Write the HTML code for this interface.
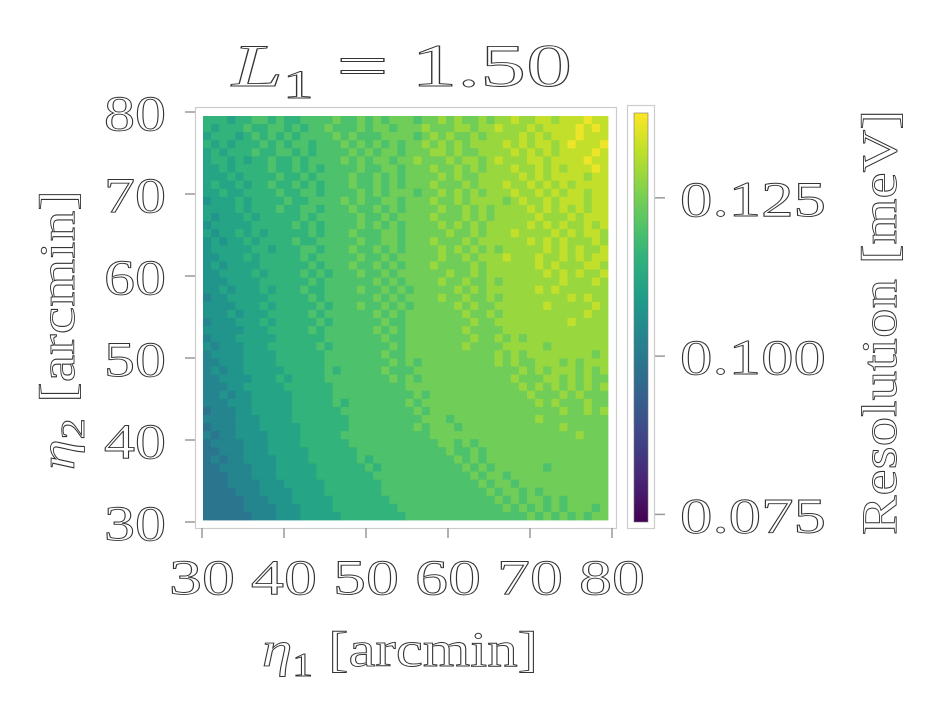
<!DOCTYPE html>
<html><head><meta charset="utf-8"><style>
body{margin:0;background:#fff;width:934px;height:710px;overflow:hidden}
svg text{font-family:"Liberation Serif",serif;fill:#fff;stroke:#333;stroke-width:0.9px}
</style></head><body>
<svg id="chart" width="934" height="710" viewBox="0 0 934 710" xmlns="http://www.w3.org/2000/svg">
<defs><linearGradient id="cbg" x1="0" y1="1" x2="0" y2="0"></linearGradient></defs>
<text x="232" y="86" font-size="60" textLength="340" lengthAdjust="spacingAndGlyphs"><tspan font-style="italic">L</tspan><tspan font-size="40" dy="12">1</tspan><tspan dy="-12"> = 1.50</tspan></text>
<rect x="195.5" y="107.5" width="421" height="421" fill="#fff" stroke="#ccc" stroke-width="1.2"/>
<g id="cells"></g>
<g id="axes"></g>
<rect x="627.5" y="105.5" width="27" height="423" fill="#fff" stroke="#ccc" stroke-width="1.2"/>
<rect x="634" y="113" width="14" height="409" fill="url(#cbg)" stroke="#777" stroke-width="0.6"/>
<g id="cbaxis"></g>
<text x="262" y="666" font-size="50" textLength="276" lengthAdjust="spacingAndGlyphs"><tspan font-style="italic">η</tspan><tspan font-size="34" dy="10">1</tspan><tspan dy="-10"> [arcmin]</tspan></text>
<text transform="translate(74,470) rotate(-90)" font-size="50" textLength="280" lengthAdjust="spacingAndGlyphs"><tspan font-style="italic">η</tspan><tspan font-size="34" dy="10">2</tspan><tspan dy="-10"> [arcmin]</tspan></text>
<text transform="translate(896,535) rotate(-90)" font-size="50" textLength="425" lengthAdjust="spacingAndGlyphs">Resolution [meV]</text>
</svg>
<script>
const xTicks=[30,40,50,60,70,80];
const yTicks=[30,40,50,60,70,80];
const cbTicks=[0.075,0.100,0.125];
const cbTickLabels=["0.075","0.100","0.125"];
const vmin=0.0738, vmax=0.1384;
const levelBase=0.099, levelStep=0.0042;
const rows=[
"4443445545 4455556556 5656665667 6766767787 7887888988",
"4344454455 4545565556 5665666766 6776778777 8788889898",
"3444345454 5455556565 5566665676 7667677778 7878889888",
"4343444545 4554555656 5656566767 6767777878 7887898889",
"3434445445 5454555565 6566566677 6766777787 8787888898",
"3443434454 4545555656 5665667666 7677678777 8878888988",
"3343444454 4545455556 5566566676 6767677787 7878788898",
"3334344445 4454555565 5656566667 6766777778 7878888788",
"3433434454 4545455565 5656566676 6676777877 8787878888",
"3343344445 4455455556 5656665667 6767677787 7878788788",
"2333434444 5445555656 5566566676 6767777678 7787888788",
"3333434445 4455455565 5656566667 6676767777 8787878788",
"3233343444 4454555556 5565666676 6676767777 7877787888",
"2333334444 4545455556 5656566667 6767677777 8787877878",
"3233434344 4445455565 5566566666 7667677787 7778787887",
"2323343444 4544555556 5566566676 6676777777 8787877787",
"2333334434 4455455565 5656566667 6767676777 7787878778",
"2233343444 4454555556 5565666667 6676777877 7877878788",
"2323333444 4445455565 5656566676 6667677777 7878777887",
"2233334344 4454545556 5565666666 7667677777 7787878778",
"2223333444 4445455555 5656566667 6676676777 7777877787",
"2232333434 4454455556 5565656666 6767677777 7878777777",
"1223333344 4445455555 5656566667 6676676777 7777787877",
"2222333434 4444545556 5565656666 6767667777 7787777787",
"2223233344 4445455555 5656566666 6676676777 7777777877",
"1222333434 4444545555 5565566666 6667667777 7777787777",
"2222233344 4445455555 5656566666 6676666777 7777777777",
"1222333334 4444455555 5565566666 6667667676 7777777777",
"2122233344 4444545555 5556566666 6676666777 7767777777",
"1222233334 4444455555 5565566666 6666667676 7777777767",
"1122233334 4444455555 5556565666 6666667676 6777676777",
"1212233333 4444454555 5565556666 6666666667 6767776767",
"1122223334 3444455555 5556565666 6666666676 6677676766",
"1112233333 4444445555 5555566666 6666666667 6767676767",
"1121223333 3444445555 5555556566 6666666666 7666767666",
"1112223333 3444445455 5555565666 6666666666 6767666766",
"0111223333 3444444555 5555556566 6666666666 6666766767",
"1111222333 3444444455 5555555666 5666666666 6766666666",
"0111222333 3344444455 5555556566 6566666666 6666766666",
"1011222233 3344444555 5555555566 6666666666 6666667666",
"0111122233 3344444455 5555555556 6565666666 6666666666",
"0011122233 3334444445 5555555555 6556566666 6666666666",
"0101122223 3334444445 4555555555 5656566666 6666666666",
"0011112223 3333444444 5455555555 5565656666 6656666666",
"0001112223 3333444444 4555555555 5556566566 6666666666",
"0001111222 3333344444 4455555555 5555656656 6666666666",
"0000111222 2333344444 4455555555 5555565665 6566666666",
"0000011122 2333334444 4445555555 5555556565 6656566666",
"0000011112 2233334444 4444555555 5555555656 5656566656",
"0000001112 2233333444 4444455555 5555555555 6565656566"
];
const VIR=[[68,1,84],[72,40,120],[62,74,137],[49,104,142],[38,130,142],[31,158,137],[53,183,121],[109,205,89],[180,222,44],[253,231,37]];
function cmap(v){let t=(v-vmin)/(vmax-vmin);t=Math.max(0,Math.min(1,t))*(VIR.length-1);const i=Math.min(VIR.length-2,Math.floor(t)),f=t-i;const c=VIR[i].map((a,k)=>Math.round(a+(VIR[i+1][k]-a)*f));return 'rgb('+c.join(',')+')';}
const NS="http://www.w3.org/2000/svg";
const X0=203,X1=608,Y0=520,Y1=116;
const xs=v=>202+(v-30)*8.2, ys=v=>522-(v-30)*8.2;
const cbY=v=>522-(v-vmin)/(vmax-vmin)*409;
function mk(tag,attrs,parent){const e=document.createElementNS(NS,tag);for(const k in attrs)e.setAttribute(k,attrs[k]);parent.appendChild(e);return e;}
const grid=rows.map(r=>r.replace(/ /g,'').split('').map(Number));
const nr=grid.length,nc=grid[0].length;
const cw=(X1-X0)/nc,ch=(Y0-Y1)/nr;
const cells=document.getElementById('cells');
grid.forEach((row,r)=>row.forEach((lv,c)=>{
 const v=levelBase+lv*levelStep;
 const e=mk('rect',{x:X0+c*cw,y:Y1+r*ch,width:cw+0.4,height:ch+0.4,fill:cmap(v)},cells);
 
 
}));
const axes=document.getElementById('axes');
xTicks.forEach(t=>{
 const l=mk('line',{x1:xs(t),x2:xs(t),y1:528,y2:538,stroke:'#999','stroke-width':1.5},axes);
 
 
 const tx=mk('text',{x:xs(t)-33,y:594,'font-size':50,textLength:66,lengthAdjust:'spacingAndGlyphs'},axes);
 tx.textContent=t;
 
 
});
yTicks.forEach(t=>{
 const l=mk('line',{x1:185,x2:195,y1:ys(t),y2:ys(t),stroke:'#999','stroke-width':1.5},axes);
 
 
 const tx=mk('text',{x:104,y:ys(t)+18,'font-size':50,textLength:62,lengthAdjust:'spacingAndGlyphs'},axes);
 tx.textContent=t;
 
 
});
const g=document.getElementById('cbg');
for(let i=0;i<=20;i++){const v=vmin+(vmax-vmin)*i/20;mk('stop',{offset:(i/20),'stop-color':cmap(v)},g);}
const cba=document.getElementById('cbaxis');
cbTicks.forEach((t,i)=>{
 const l=mk('line',{x1:655,x2:665,y1:cbY(t),y2:cbY(t),stroke:'#999','stroke-width':1.5},cba);
 
 
 const tx=mk('text',{x:680,y:cbY(t)+18,'font-size':50,textLength:146,lengthAdjust:'spacingAndGlyphs'},cba);
 tx.textContent=cbTickLabels[i];
 
 
});
</script>
</body></html>
